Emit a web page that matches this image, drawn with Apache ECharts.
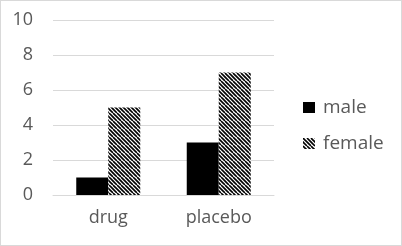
<!DOCTYPE html>
<html><head><meta charset="utf-8">
<script src="https://cdn.jsdelivr.net/npm/echarts@6/dist/echarts.min.js"></script>
<style>html,body{margin:0;padding:0;background:#fff}#c{width:402px;height:246px;box-sizing:border-box;border:1px solid #d9d9d9}</style>
</head><body><div id="c"></div>
<script>
const categories = ['drug', 'placebo'];
const maleValues = [1, 3];
const femaleValues = [5, 7];
const seriesNames = ['male', 'female'];

function hatch() {
  const c = document.createElement('canvas');
  c.width = 8; c.height = 8;
  const g = c.getContext('2d');
  g.fillStyle = '#fff'; g.fillRect(0, 0, 8, 8);
  g.strokeStyle = '#000'; g.lineWidth = 1.6;
  for (let k = -8; k <= 8; k += 4) {
    g.beginPath(); g.moveTo(k, 0); g.lineTo(k + 8, 8); g.stroke();
  }
  return c;
}
const chart = echarts.init(document.getElementById('c'), null, {renderer: 'canvas'});
const font = '"Open Sans", Lato, sans-serif';
chart.setOption({
  animation: false,
  grid: {left: 52, right: 127, top: 19, bottom: 50},
  legend: {
    orient: 'vertical', left: 297, top: 92, itemWidth: 12, itemHeight: 11, itemGap: 17,
    icon: 'rect',
    textStyle: {fontFamily: font, fontSize: 19, color: '#595959', padding: [0, 0, 0, 3]},
    data: seriesNames
  },
  xAxis: {
    type: 'category', data: categories,
    axisLine: {show: true, lineStyle: {color: '#d9d9d9'}}, axisTick: {show: false},
    axisLabel: {fontFamily: font, fontSize: 18, color: '#595959', margin: 14}
  },
  yAxis: {
    type: 'value', min: 0, max: 10, interval: 2,
    axisLine: {show: false}, axisTick: {show: false},
    splitLine: {lineStyle: {color: '#d9d9d9', width: 1}},
    axisLabel: {fontFamily: font, fontSize: 18, color: '#595959', margin: 20}
  },
  series: [
    {name: seriesNames[0], type: 'bar', data: maleValues, barWidth: 32, barGap: '0%', itemStyle: {color: '#000'}},
    {name: seriesNames[1], type: 'bar', data: femaleValues, barWidth: 32, barGap: '0%', itemStyle: {color: {image: hatch(), repeat: 'repeat'}}}
  ]
});
</script></body></html>
